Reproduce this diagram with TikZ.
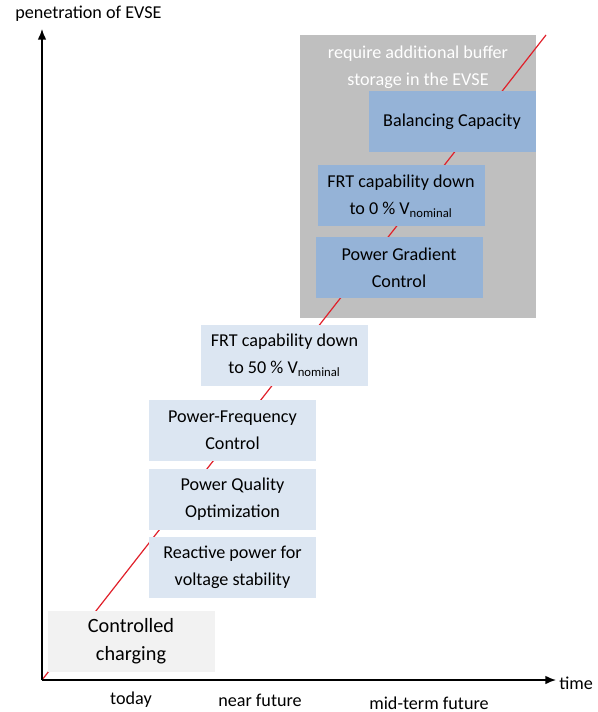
\documentclass[tikz,border=0pt]{standalone}
\usepackage{fontspec}
\setmainfont{Carlito}
\usetikzlibrary{arrows.meta,positioning,calc}
\definecolor{paleblue}{RGB}{220,230,242}
\definecolor{midblue}{RGB}{149,179,215}
\definecolor{palegray}{RGB}{242,242,242}
\definecolor{buffergray}{RGB}{191,191,191}
\definecolor{trendred}{RGB}{224,32,42}
\tikzset{
  feature/.style={fill=paleblue,minimum width=125.25pt,minimum height=45.75pt,
    align=center,font=\fontsize{13.6}{20}\selectfont,inner sep=0pt},
  advanced/.style={feature,fill=midblue},
  axis/.style={line width=1.1pt,-{Latex[length=8pt,width=6.5pt]}},
  period/.style={font=\fontsize{13.6}{16}\selectfont}
}
\begin{document}
\begin{tikzpicture}[x=0.75pt,y=-0.75pt]
        \useasboundingbox (0,0) rectangle (598,712);
        % buffer region
        \fill[buffergray] (300,35) rectangle (536,318);
        \node[white,align=center,font=\fontsize{13.6}{20}\selectfont] (buffer) at (418,67) {require additional buffer\\storage in the EVSE};
        % trend
        \coordinate (o) at (42,680);
        \coordinate (trend) at (546,35);
        \draw[trendred,line width=0.9pt] (o) -- (trend);
        % axes
        \coordinate (ytip) at (42,29);
        \coordinate (xtip) at (556,680);
        \draw[axis] (o) -- (ytip);
        \draw[axis] (o) -- (xtip);
        \node[anchor=west,inner sep=0pt,font=\fontsize{13.6}{16}\selectfont] (ylab) at (15,14) {penetration of EVSE};
        \node[anchor=west,inner sep=0pt,font=\fontsize{13.6}{16}\selectfont] (xlab) at (559,683) {time};
        % features
        \node[feature,fill=palegray,font=\fontsize{15.2}{21}\selectfont] (ctrl) at (131,641.5) {Controlled\\charging};
        \node[feature] (react) at (232.5,567.5) {Reactive power for\\voltage stability};
        \node[feature] (pq) at (232.5,499) {Power Quality\\Optimization};
        \node[feature] (pf) at (232.5,430.5) {Power-Frequency\\Control};
        \node[feature] (frt50) at (284.5,355.5) {FRT capability down\\to 50 \% V\textsubscript{nominal}};
        \node[advanced] (pgc) at (399,268) {Power Gradient\\Control};
        \node[advanced] (frt0) at (401,196) {FRT capability down\\to 0 \% V\textsubscript{nominal}};
        \node[advanced] (bal) at (452,121.5) {Balancing Capacity};
        % time periods
        \node[period] (today) at (131,700) {today};
        \node[period] (near) at (260,700) {near future};
        \node[period] (mid) at (429,703) {mid-term future};
      \end{tikzpicture}
\end{document}
